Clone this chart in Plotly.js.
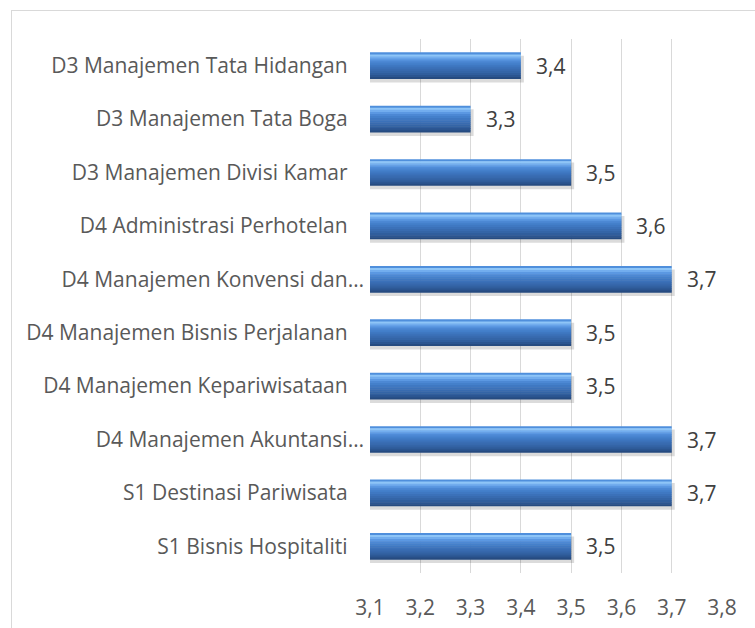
<!DOCTYPE html>
<html>
<head>
<meta charset="utf-8">
<script src="https://cdn.plot.ly/plotly-3.0.1.min.js"></script>
<style>
  html, body { margin: 0; padding: 0; background: #ffffff; }
  #chart { width: 755px; height: 628px; position: relative; }
  #frame { position: absolute; left: 11px; top: 10px; width: 900px; height: 900px;
           border: 1px solid #d9d9d9; pointer-events: none; }
  #wrap { position: relative; width: 755px; height: 628px; overflow: hidden; }
</style>
</head>
<body>
<div id="wrap">
  <div id="chart"></div>
  <div id="frame"></div>
</div>
<script>
// ---- data (top to bottom as shown) ----
const categories = [
  "D3 Manajemen Tata Hidangan",
  "D3 Manajemen Tata Boga",
  "D3 Manajemen Divisi Kamar",
  "D4 Administrasi Perhotelan",
  "D4 Manajemen Konvensi dan…",
  "D4 Manajemen Bisnis Perjalanan",
  "D4 Manajemen Kepariwisataan",
  "D4 Manajemen Akuntansi…",
  "S1 Destinasi Pariwisata",
  "S1 Bisnis Hospitaliti"
];
const values = [3.4, 3.3, 3.5, 3.6, 3.7, 3.5, 3.5, 3.7, 3.7, 3.5];
const tickValues = [3.1, 3.2, 3.3, 3.4, 3.5, 3.6, 3.7, 3.8];
const axisMin = 3.1, axisMax = 3.8;

// ---- styling ----
const FONT = "Open Sans, sans-serif";
const FS = 21;
const barWidth = 0.5;
const stripeColors = ["#4f8fdc", "#8ec5f7", "#72adee", "#5b98e2", "#4c88d4", "#4480cb",
                      "#3f78c2", "#3b71b9", "#386bb0", "#3465a7", "#305e9d", "#2b5590", "#264b80"];

const traces = [];
// shadow
traces.push({
  type: "bar", orientation: "h", y: categories, x: values.map(v => v - axisMin + 0.006),
  base: axisMin, width: barWidth, offset: -barWidth / 2 + 0.065,
  marker: { color: "rgba(0,0,0,0.14)" }, hoverinfo: "skip", showlegend: false
});
// gradient stripes
const nStripes = stripeColors.length;
const sw = barWidth / nStripes;
stripeColors.forEach((c, i) => {
  traces.push({
    type: "bar", orientation: "h", y: categories, x: values.map(v => v - axisMin),
    base: axisMin, width: (i === nStripes - 1 ? sw : sw + 0.01), offset: -barWidth / 2 + i * sw,
    marker: { color: c, line: { width: 0 } },
    hoverinfo: "skip", showlegend: false
  });
});

const annotations = categories.map((c, i) => ({
  x: values[i], y: c, xref: "x", yref: "y",
  text: values[i].toFixed(1).replace(".", ","),
  showarrow: false, xanchor: "left", xshift: 13,
  font: { family: FONT, size: FS, color: "#404040" }
}));

// labels: full names carry trailing spacing, truncated ones do not
const tickText = categories.map(c => c.endsWith("…") ? c : c + "\u00a0\u00a0\u00a0");

const layout = {
  width: 755, height: 628,
  margin: { l: 370, r: 33, t: 39, b: 55, pad: 0 },
  paper_bgcolor: "#ffffff", plot_bgcolor: "#ffffff",
  barmode: "overlay", bargap: 0.5,
  separators: ",.",
  showlegend: false,
  xaxis: {
    range: [axisMin, axisMax], tickvals: tickValues, tickformat: ".1f",
    showgrid: true, gridcolor: "#d9d9d9", gridwidth: 1,
    zeroline: false, showline: false, ticks: "",
    ticklabelstandoff: 20,
    tickfont: { family: FONT, size: FS, color: "#595959" }
  },
  yaxis: {
    type: "category", autorange: "reversed",
    tickmode: "array", tickvals: categories, ticktext: tickText,
    showgrid: false, zeroline: false, showline: false, ticks: "",
    ticklabelstandoff: 5,
    tickfont: { family: FONT, size: FS, color: "#595959" }
  },
  annotations: annotations
};

Plotly.newPlot("chart", traces, layout, { displayModeBar: false, staticPlot: true });
</script>
</body>
</html>
